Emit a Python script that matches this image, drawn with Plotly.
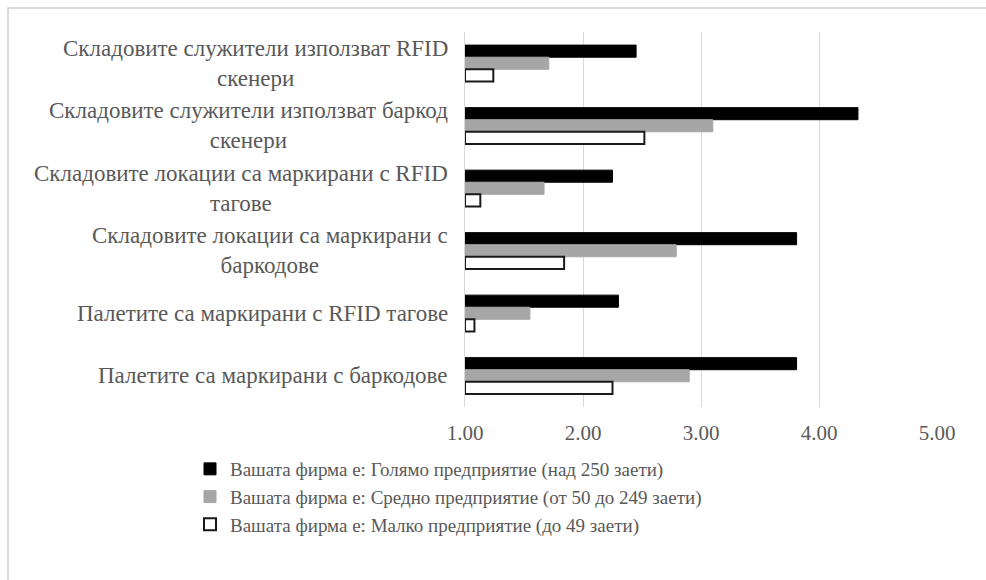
import plotly.graph_objects as go

# Survey statements (top to bottom) and mean scores per company size
categories = [
    "Складовите служители използват RFID<br>скенери",
    "Складовите служители използват баркод<br>скенери",
    "Складовите локации са маркирани с RFID<br>тагове",
    "Складовите локации са маркирани с<br>баркодове",
    "Палетите са маркирани с RFID тагове",
    "Палетите са маркирани с баркодове",
]
series_names = [
    "Вашата фирма е: Голямо предприятие (над 250 заети)",
    "Вашата фирма е: Средно предприятие (от 50 до 249 заети)",
    "Вашата фирма е: Малко предприятие (до 49 заети)",
]
large = [2.45, 4.33, 2.25, 3.81, 2.30, 3.81]
medium = [1.71, 3.10, 1.67, 2.79, 1.55, 2.90]
small = [1.24, 2.52, 1.13, 1.84, 1.08, 2.25]
x_ticks = [1, 2, 3, 4, 5]
x_tick_labels = ["1.00", "2.00", "3.00", "4.00", "5.00"]

W, H = 986, 580
L, R, T, B = 465, 49, 32, 173
pw, ph = W - L - R, H - T - B

font_family = "Liberation Serif, Times New Roman, serif"
text_col = "#595959"

styles = [
    dict(color="#000000", line=dict(color="#000000", width=1)),
    dict(color="#a6a6a6", line=dict(color="#a6a6a6", width=1)),
    dict(color="#ffffff", line=dict(color="#1a1a1a", width=2)),
]

fig = go.Figure()
for i, (name, vals) in enumerate(zip(series_names, [large, medium, small])):
    fig.add_trace(go.Bar(
        y=categories, x=[v - 1 for v in vals], base=1,
        orientation="h", name=name, marker=styles[i],
        legendgroup=f"g{i}",
    ))

# Category labels, centred line by line to the left of the plot
for c in categories:
    fig.add_annotation(
        x=0, xref="paper", y=c, yref="y", text=c, showarrow=False,
        xanchor="right", align="center", xshift=-15,
        font=dict(family=font_family, size=23, color=text_col),
    )

# Thin chart border (top and left edges)
def px_x(p):
    return (p - L) / pw

def px_y(p):
    return (H - B - p) / ph

fig.add_shape(type="rect", xref="paper", yref="paper",
              x0=px_x(8), x1=px_x(1000), y0=px_y(8), y1=px_y(600),
              line=dict(color="#cfcfcf", width=1.5), fillcolor="rgba(0,0,0,0)")

fig.update_layout(
    width=W, height=H,
    margin=dict(l=L, r=R, t=T, b=B),
    paper_bgcolor="white", plot_bgcolor="white",
    barmode="group", bargap=0.42, bargroupgap=0,
    font=dict(family=font_family, size=19, color=text_col),
    showlegend=True,
    legend=dict(
        orientation="v", x=px_x(190), xanchor="left",
        y=px_y(450), yanchor="top", tracegroupgap=0,
        font=dict(family=font_family, size=19, color=text_col),
        bgcolor="rgba(0,0,0,0)",
    ),
    xaxis=dict(
        range=[1, 5], tickvals=x_ticks, ticktext=x_tick_labels,
        showgrid=True, gridcolor="#d9d9d9", gridwidth=1,
        zeroline=False, showline=False, ticks="", ticklabelstandoff=11,
        tickfont=dict(family=font_family, size=21, color=text_col),
    ),
    yaxis=dict(
        autorange="reversed", showticklabels=False, showgrid=False,
        showline=True, linecolor="#d9d9d9", linewidth=1, ticks="",
    ),
)

fig.write_html("out.html")
